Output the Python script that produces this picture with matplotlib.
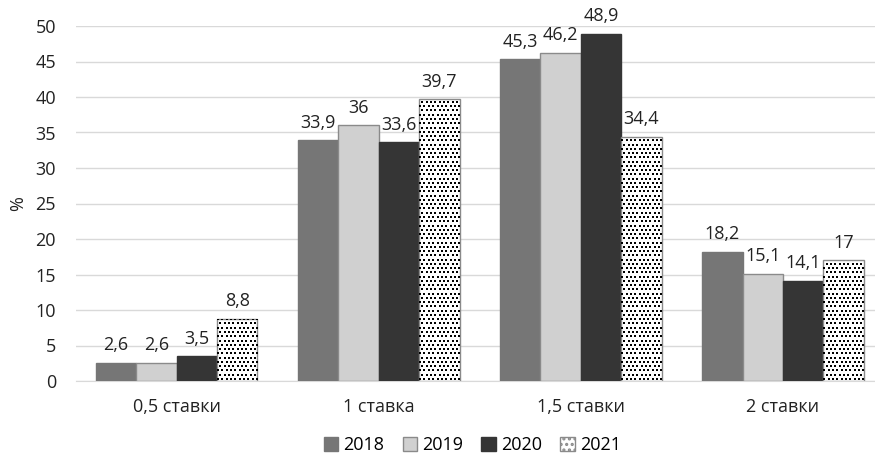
import numpy as np
import matplotlib.pyplot as plt
import matplotlib.patches as mpatches

plt.rcParams['font.family'] = ['Open Sans', 'DejaVu Sans']
plt.rcParams['hatch.color'] = 'black'
plt.rcParams['hatch.linewidth'] = 1.5

categories = ['0,5 ставки', '1 ставка', '1,5 ставки', '2 ставки']
years = ['2018', '2019', '2020', '2021']
v2018 = [2.6, 33.9, 45.3, 18.2]
v2019 = [2.6, 36, 46.2, 15.1]
v2020 = [3.5, 33.6, 48.9, 14.1]
v2021 = [8.8, 39.7, 34.4, 17]
series = [v2018, v2019, v2020, v2021]

colors = ['#767676', '#d0d0d0', '#353535', 'white']
edges = ['#767676', '#8a8a8a', '#353535', '#8a8a8a']

fig = plt.figure(figsize=(8.75, 4.57), dpi=100)
ax = fig.add_axes([75.5/875, 76/457, 808.5/875, 355/457])

x = np.arange(len(categories))
w = 0.2
all_bars = []
for i, vals in enumerate(series):
    pos = x + (i - 1.5) * w
    bars = ax.bar(pos, vals, width=w, color=colors[i], edgecolor=edges[i],
                  linewidth=1, label=years[i], zorder=3)
    all_bars.append(bars)
    for p, v in zip(pos, vals):
        ax.text(p, v + 1.2, f'{v:g}'.replace('.', ','), ha='center', va='bottom',
                fontsize=13, color='#222222')

# dotted texture for 2021 (staggered small squares)
dx, dy = 0.0215, 0.6
for b in all_bars[3]:
    x0, h = b.get_x(), b.get_height()
    ys = np.arange(dy / 2, h, dy)
    px, py = [], []
    for k, yy in enumerate(ys):
        xs = np.arange(x0 + (dx / 2 if k % 2 else 0) + 0.005, x0 + w, dx)
        px.extend(xs)
        py.extend([yy] * len(xs))
    sc = ax.scatter(px, py, marker='s', s=3.6, color='black', linewidths=0, zorder=4)
    sc.set_clip_path(b)

ax.set_ylim(0, 50)
ax.set_xlim(-0.5, 3.5)
ax.set_yticks(np.arange(0, 51, 5))
ax.set_xticks(x)
ax.set_xticklabels(categories)
ax.tick_params(axis='both', length=0, labelsize=13, colors='#222222')
ax.tick_params(axis='y', pad=14)
ax.tick_params(axis='x', pad=12)
ax.yaxis.grid(True, color='#d9d9d9', linewidth=1, zorder=0)
for s in ['top', 'right', 'left']:
    ax.spines[s].set_visible(False)
ax.spines['bottom'].set_color('#d9d9d9')
ax.set_ylabel('%', fontsize=13, color='#222222', labelpad=6)

handles = [mpatches.Patch(facecolor=colors[i], edgecolor=edges[i], label=years[i])
           for i in range(3)]
handles.append(mpatches.Patch(facecolor='white', edgecolor=edges[3], hatch='...',
                              label=years[3]))
fig.legend(handles=handles, loc='lower center', bbox_to_anchor=(0.54, -0.03),
           ncol=4, frameon=False, fontsize=13, handlelength=0.8, handleheight=0.8,
           handletextpad=0.3, columnspacing=1.0)

fig.savefig('out.png', dpi=100)
